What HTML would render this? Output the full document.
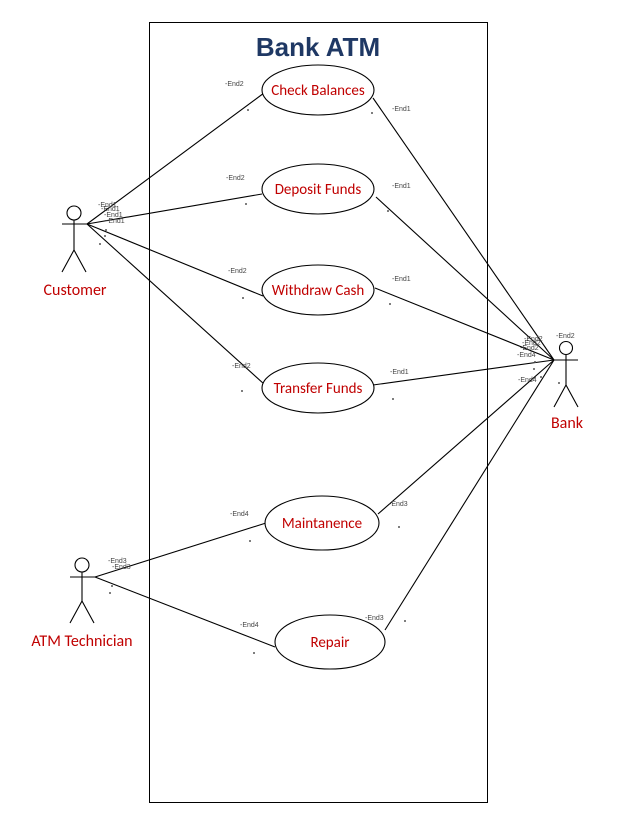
<!DOCTYPE html>
<html><head><meta charset="utf-8"><style>
body{margin:0;background:#fff}
svg text{font-family:"Liberation Sans",sans-serif}
.l{fill:#c00000;font-size:15px;text-anchor:middle;font-family:"Carlito","Liberation Sans",sans-serif}
.a{font-size:16px}
.s{fill:#444;font-size:7px}
</style></head><body>
<svg width="638" height="826" viewBox="0 0 638 826" xmlns="http://www.w3.org/2000/svg">
<rect x="149.5" y="22.5" width="338" height="780" fill="none" stroke="#000" stroke-width="1"/>
<text x="318" y="56" text-anchor="middle" font-size="26" font-weight="bold" fill="#1f3864">Bank ATM</text>
<g stroke="#000" stroke-width="1.1" fill="none">
<line x1="87" y1="224" x2="264" y2="93"/>
<line x1="87" y1="224" x2="262" y2="194"/>
<line x1="87" y1="224" x2="263" y2="296"/>
<line x1="87" y1="224" x2="264" y2="384"/>
<line x1="554" y1="360" x2="373" y2="98"/>
<line x1="554" y1="360" x2="376" y2="197"/>
<line x1="554" y1="360" x2="375" y2="288"/>
<line x1="554" y1="360" x2="373" y2="385"/>
<line x1="554" y1="360" x2="378" y2="514"/>
<line x1="554" y1="360" x2="385" y2="630"/>
<line x1="95" y1="577" x2="266" y2="523"/>
<line x1="95" y1="577" x2="275" y2="647"/>
<circle cx="74" cy="213" r="7"/><line x1="74" y1="220" x2="74" y2="250"/><line x1="62" y1="224" x2="87" y2="224"/><line x1="74" y1="250" x2="62" y2="272"/><line x1="74" y1="250" x2="86" y2="272"/>
<circle cx="566" cy="348" r="6.5"/><line x1="566" y1="355" x2="566" y2="385"/><line x1="554" y1="360" x2="578" y2="360"/><line x1="566" y1="385" x2="554" y2="407"/><line x1="566" y1="385" x2="578" y2="407"/>
<circle cx="82" cy="565" r="7"/><line x1="82" y1="572" x2="82" y2="601"/><line x1="70" y1="577" x2="95" y2="577"/><line x1="82" y1="601" x2="70" y2="623"/><line x1="82" y1="601" x2="94" y2="623"/>
</g>
<g fill="#fff" stroke="#000" stroke-width="1.1">
<ellipse cx="318" cy="90" rx="56" ry="25"/>
<ellipse cx="318" cy="189" rx="56" ry="25"/>
<ellipse cx="318" cy="290" rx="56" ry="25"/>
<ellipse cx="318" cy="388" rx="56" ry="25"/>
<ellipse cx="322" cy="523" rx="57" ry="27"/>
<ellipse cx="330" cy="642" rx="55" ry="27"/>
</g>
<text class="l" x="318" y="95">Check Balances</text>
<text class="l" x="318" y="194">Deposit Funds</text>
<text class="l" x="318" y="295">Withdraw Cash</text>
<text class="l" x="318" y="393">Transfer Funds</text>
<text class="l" x="322" y="528">Maintanence</text>
<text class="l" x="330" y="647">Repair</text>
<text class="l a" x="75" y="295">Customer</text>
<text class="l a" x="567" y="428">Bank</text>
<text class="l a" x="82" y="646">ATM Technician</text>
<g class="s">
<text x="225" y="86">-End2</text><text x="392" y="111">-End1</text>
<text x="226" y="180">-End2</text><text x="392" y="188">-End1</text>
<text x="228" y="273">-End2</text><text x="392" y="281">-End1</text>
<text x="232" y="368">-End2</text><text x="390" y="374">-End1</text>
<text x="230" y="516">-End4</text><text x="389" y="506">-End3</text>
<text x="240" y="627">-End4</text><text x="365" y="620">-End3</text>
<text x="98" y="207">-End1</text><text x="101" y="211">-End1</text><text x="104" y="217">-End1</text><text x="106" y="223">-End1</text>
<text x="556" y="338">-End2</text>
<text x="524" y="341">-End2</text><text x="522" y="345">-End2</text><text x="520" y="350">-End2</text><text x="517" y="357">-End4</text><text x="518" y="382">-End4</text>
<text x="108" y="563">-End3</text><text x="112" y="569">-End3</text>
</g>
<g fill="#555">
<circle cx="248" cy="110" r="1"/><circle cx="372" cy="113" r="1"/>
<circle cx="246" cy="204" r="1"/><circle cx="388" cy="211" r="1"/>
<circle cx="243" cy="298" r="1"/><circle cx="390" cy="304" r="1"/>
<circle cx="242" cy="391" r="1"/><circle cx="393" cy="399" r="1"/>
<circle cx="250" cy="541" r="1"/><circle cx="399" cy="527" r="1"/>
<circle cx="254" cy="653" r="1"/><circle cx="405" cy="621" r="1"/>
<circle cx="106" cy="230" r="1"/><circle cx="105" cy="236" r="1"/><circle cx="100" cy="244" r="1"/>
<circle cx="535" cy="362" r="1"/><circle cx="534" cy="369" r="1"/><circle cx="541" cy="377" r="1"/><circle cx="559" cy="383" r="1"/>
<circle cx="112" cy="586" r="1"/><circle cx="110" cy="593" r="1"/>
</g>
</svg>
</body></html>
